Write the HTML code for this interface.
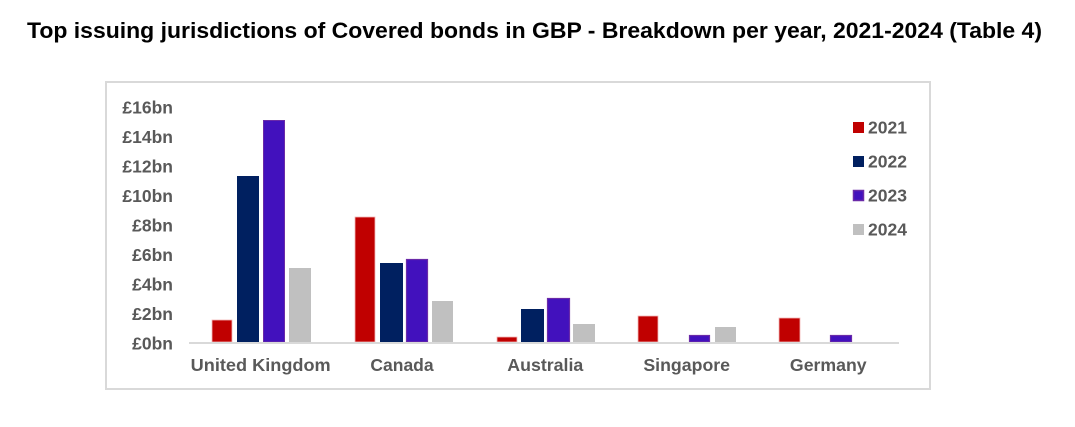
<!DOCTYPE html>
<html><head><meta charset="utf-8"><style>
html,body{margin:0;padding:0;background:#fff;}
svg{display:block;}
text{font-family:"Liberation Sans",Arial,sans-serif;font-weight:bold;}
</style></head><body>
<svg width="1075" height="427" viewBox="0 0 1075 427" xmlns="http://www.w3.org/2000/svg">
<rect x="0" y="0" width="1075" height="427" fill="#fff"/>
<text x="27" y="38" font-size="22" fill="#000" textLength="1015" lengthAdjust="spacingAndGlyphs">Top issuing jurisdictions of Covered bonds in GBP - Breakdown per year, 2021-2024 (Table 4)</text>
<rect x="106" y="82" width="824" height="307" fill="none" stroke="#D9D9D9" stroke-width="2"/>
<g fill="#595959" font-size="17.5" text-anchor="end">
<text x="173" y="113.3">£16bn</text>
<text x="173" y="142.8">£14bn</text>
<text x="173" y="172.3">£12bn</text>
<text x="173" y="201.8">£10bn</text>
<text x="173" y="231.3">£8bn</text>
<text x="173" y="260.8">£6bn</text>
<text x="173" y="290.3">£4bn</text>
<text x="173" y="319.8">£2bn</text>
<text x="173" y="349.3">£0bn</text>
</g>
<!-- bars -->
<g>
<rect x="212" y="320" width="20" height="22" fill="#C00000" stroke="#F2B8B8" stroke-width="0.8"/>
<rect x="237" y="176" width="22" height="166" fill="#002060"/>
<rect x="263.5" y="120.5" width="21" height="221.5" fill="#4211BD" stroke="#6A2AA8" stroke-width="1"/>
<rect x="289" y="268" width="22" height="74" fill="#C0C0C0"/>

<rect x="355" y="217" width="20" height="125" fill="#C00000" stroke="#F2B8B8" stroke-width="0.8"/>
<rect x="380" y="263" width="23" height="79" fill="#002060"/>
<rect x="406.5" y="259.5" width="21" height="82.5" fill="#4211BD" stroke="#6A2AA8" stroke-width="1.2"/>
<rect x="432" y="301" width="21" height="41" fill="#C0C0C0"/>

<rect x="497" y="337" width="20" height="5" fill="#C00000" stroke="#F2B8B8" stroke-width="0.8"/>
<rect x="521" y="309" width="23" height="33" fill="#002060"/>
<rect x="547.5" y="298.5" width="22" height="43.5" fill="#4211BD" stroke="#6A2AA8" stroke-width="1.2"/>
<rect x="573" y="324" width="22" height="18" fill="#C0C0C0"/>

<rect x="638" y="316" width="20" height="26" fill="#C00000" stroke="#F2B8B8" stroke-width="0.8"/>
<rect x="689.5" y="335.5" width="20" height="6.5" fill="#4211BD" stroke="#6A2AA8" stroke-width="1.2"/>
<rect x="715" y="327" width="21" height="15" fill="#C0C0C0"/>

<rect x="779" y="318" width="21" height="24" fill="#C00000" stroke="#F2B8B8" stroke-width="0.8"/>
<rect x="830.5" y="335.5" width="21" height="6.5" fill="#4211BD" stroke="#6A2AA8" stroke-width="1.2"/>
</g>
<line x1="189" y1="343" x2="899" y2="343" stroke="#D9D9D9" stroke-width="2"/>
<g fill="#595959" font-size="17.5" text-anchor="middle">
<text x="260.7" y="371" textLength="140" lengthAdjust="spacingAndGlyphs">United Kingdom</text>
<text x="402" y="371">Canada</text>
<text x="545.3" y="371" textLength="76" lengthAdjust="spacingAndGlyphs">Australia</text>
<text x="686.7" y="371" textLength="86.7" lengthAdjust="spacingAndGlyphs">Singapore</text>
<text x="828.3" y="371" textLength="76.7" lengthAdjust="spacingAndGlyphs">Germany</text>
</g>
<!-- legend -->
<rect x="853" y="122" width="11" height="11" fill="#C00000"/>
<rect x="853" y="156" width="11" height="11" fill="#002060"/>
<rect x="853.5" y="190.5" width="10" height="10" fill="#4211BD" stroke="#6A2AA8" stroke-width="1.5"/>
<rect x="853" y="224" width="11" height="11" fill="#C0C0C0"/>
<g fill="#595959" font-size="17.5">
<text x="868" y="133.3" textLength="39" lengthAdjust="spacingAndGlyphs">2021</text>
<text x="868" y="167.3" textLength="39" lengthAdjust="spacingAndGlyphs">2022</text>
<text x="868" y="201.3" textLength="39" lengthAdjust="spacingAndGlyphs">2023</text>
<text x="868" y="235.3" textLength="39" lengthAdjust="spacingAndGlyphs">2024</text>
</g>
</svg>
</body></html>
